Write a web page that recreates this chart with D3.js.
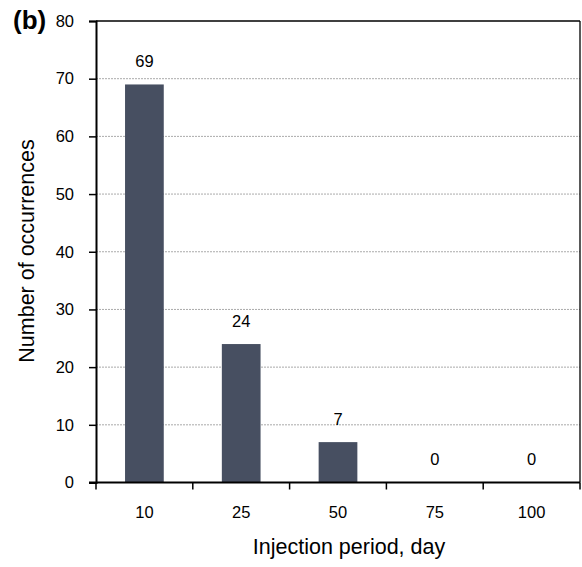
<!DOCTYPE html>
<html><head><meta charset="utf-8">
<script src="https://cdn.jsdelivr.net/npm/d3@7"></script>
<style>body{margin:0;background:#fff}svg{display:block}text{font-family:"Liberation Sans",Arial,sans-serif}</style>
</head><body>
<svg id="c" width="582" height="567"></svg>
<script>
const categories = ["10","25","50","75","100"];
const values = [69,24,7,0,0];
const yTicks = [0,10,20,30,40,50,60,70,80];

const svg = d3.select("#c");
const m = {l:96, r:580, t:21, b:482.5};
const x = d3.scaleBand().domain(categories).range([m.l, m.r]).paddingInner(0.6).paddingOuter(0.3);
const xb = d3.scaleBand().domain(categories).range([m.l, m.r]);
const y = d3.scaleLinear().domain([0,80]).range([m.b, m.t]);
const FONT = "Liberation Sans, Arial, sans-serif";

// gridlines
svg.append("g").selectAll("line").data(yTicks.filter(d=>d>0&&d<80)).join("line")
  .attr("x1", m.l).attr("x2", m.r).attr("y1", d=>y(d)).attr("y2", d=>y(d))
  .attr("stroke", "#aaa").attr("stroke-width", 1).attr("stroke-dasharray", "2,1");

// bars
svg.append("g").selectAll("rect").data(values).join("rect")
  .attr("x", (d,i)=>x(categories[i])).attr("width", x.bandwidth())
  .attr("y", d=>y(d)).attr("height", d=>m.b - y(d))
  .attr("fill", "#474f61");

// value labels
svg.append("g").selectAll("text").data(values).join("text")
  .attr("x", (d,i)=>xb(categories[i]) + xb.bandwidth()/2)
  .attr("y", d=>y(d) - 17.5)
  .attr("text-anchor", "middle").attr("font-size", 16.5).attr("fill", "#000")
  .text(d=>d);

// border top/right
svg.append("line").attr("x1", m.l).attr("x2", m.r).attr("y1", m.t).attr("y2", m.t).attr("stroke", "#000").attr("stroke-width", 1.3);
svg.append("line").attr("x1", m.r).attr("x2", m.r).attr("y1", m.t).attr("y2", m.b).attr("stroke", "#000").attr("stroke-width", 1.3);

// y axis
const ya = svg.append("g").attr("transform", `translate(${m.l},0)`)
  .call(d3.axisLeft(y).tickValues(yTicks).tickSize(7).tickPadding(15));
ya.select(".domain").attr("stroke-width", 2);
ya.selectAll(".tick line").attr("stroke-width", 1.5);
ya.selectAll("text").attr("font-size", 16.5).attr("font-family", FONT).attr("fill", "#000");

// x axis
const xa = svg.append("g").attr("transform", `translate(0,${m.b})`)
  .call(d3.axisBottom(xb).tickSize(0).tickPadding(24));
xa.select(".domain").attr("stroke-width", 2).attr("d", `M${m.l-7},0H${m.r}`);
xa.selectAll("text").attr("font-size", 16.5).attr("font-family", FONT).attr("fill", "#000");
svg.append("g").selectAll("line").data(categories.concat(["end"])).join("line")
  .attr("x1", (d,i)=> i<categories.length ? xb(d) : m.r)
  .attr("x2", (d,i)=> i<categories.length ? xb(d) : m.r)
  .attr("y1", m.b).attr("y2", m.b+7).attr("stroke", "#000").attr("stroke-width", 1.5);

// titles
svg.append("text").attr("x", 349).attr("y", 554).attr("text-anchor", "middle")
  .attr("font-size", 21.5).text("Injection period, day");
svg.append("text").attr("transform", `translate(34,251) rotate(-90)`).attr("text-anchor", "middle")
  .attr("font-size", 21.5).text("Number of occurrences");
svg.append("text").attr("x", 13).attr("y", 29).attr("font-size", 26).attr("font-weight", "bold").text("(b)");
</script>
</body></html>
